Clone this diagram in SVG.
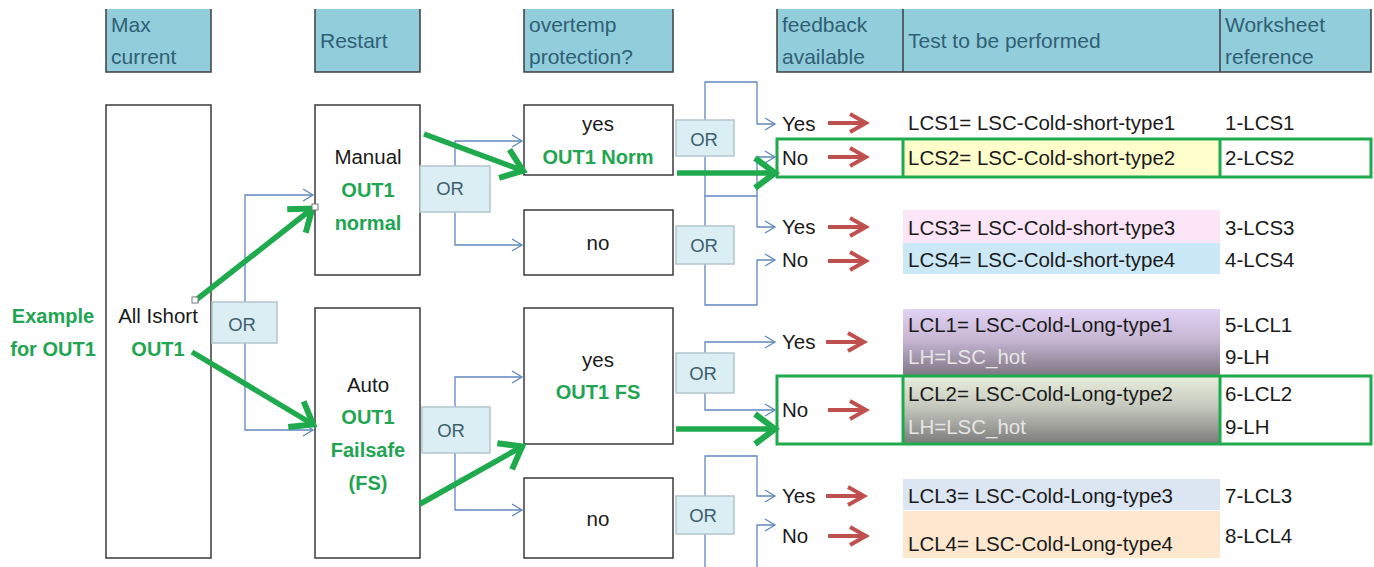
<svg xmlns="http://www.w3.org/2000/svg" width="1374" height="567" viewBox="0 0 1374 567">
<style>
text{font-family:"Liberation Sans",Arial,sans-serif;}
.hdr{fill:#92CDDC;}
.hdrline{fill:none;stroke:#3F3F3F;stroke-width:1.5;}
.htxt{font-size:21px;fill:#2F6073;}
.box{fill:#fff;stroke:#3A3A3A;stroke-width:1.5;}
.t{font-size:20.5px;fill:#1A1A1A;}
.c{text-anchor:middle;}
.g{font-weight:bold;fill:#22A552;font-size:20px;}
.or rect{fill:#DBEEF4;stroke:#B3C6CE;stroke-width:1.5;}
.or text{font-size:18.5px;fill:#3D5F6D;text-anchor:middle;}
.blue{fill:none;stroke:#5F86C0;stroke-width:1.3;}
.red{fill:none;stroke:#C0504D;stroke-width:4;}
.green{fill:none;stroke:#1FAA4D;stroke-width:5.5;}
.hl{fill:none;stroke:#1FAA4D;stroke-width:3;}
.lh{font-size:20.5px;fill:#E6E6E6;}
.handle{fill:#fff;stroke:#777;stroke-width:1;}
</style>
<defs>
<linearGradient id="gLCL1" x1="0" y1="0" x2="0" y2="1">
<stop offset="0" stop-color="#E2D2F3"/>
<stop offset="0.45" stop-color="#C7B7D4"/>
<stop offset="1" stop-color="#7E7582"/>
</linearGradient>
<linearGradient id="gLCL2" x1="0" y1="0" x2="0" y2="1">
<stop offset="0" stop-color="#E8EDDC"/>
<stop offset="0.45" stop-color="#C4C7BC"/>
<stop offset="1" stop-color="#7B7B7B"/>
</linearGradient>
<marker id="ab" markerUnits="userSpaceOnUse" markerWidth="14" markerHeight="16" viewBox="0 0 14 16" refX="12" refY="8" orient="auto">
<path d="M2,2 L12,8 L2,14" fill="none" stroke="#5F86C0" stroke-width="1.3"/>
</marker>
<marker id="ag" markerUnits="userSpaceOnUse" markerWidth="34" markerHeight="38" viewBox="0 0 34 38" refX="30" refY="19" orient="auto">
<path d="M9,4 L29,19 L9,34" fill="none" stroke="#1FAA4D" stroke-width="6" stroke-linejoin="miter"/>
</marker>
<marker id="ar" markerUnits="userSpaceOnUse" markerWidth="24" markerHeight="24" viewBox="0 0 24 24" refX="20" refY="12" orient="auto">
<path d="M4,3 L20,12 L4,21" fill="none" stroke="#C0504D" stroke-width="4"/>
</marker>
</defs>
<rect width="1374" height="567" fill="#fff"/>

<g id="headers">
<g id="h-max"><rect class="hdr" x="106" y="9" width="105" height="63"/><path class="hdrline" d="M106,9 V72 H211 V9"/><text class="htxt" x="111" y="32">Max</text><text class="htxt" x="111" y="64">current</text></g>
<g id="h-restart"><rect class="hdr" x="315" y="9" width="105" height="63"/><path class="hdrline" d="M315,9 V72 H420 V9"/><text class="htxt" x="320" y="48">Restart</text></g>
<g id="h-overtemp"><rect class="hdr" x="524" y="9" width="149" height="63"/><path class="hdrline" d="M524,9 V72 H673 V9"/><text class="htxt" x="529" y="32">overtemp</text><text class="htxt" x="529" y="64">protection?</text></g>
<g id="h-feedback"><rect class="hdr" x="777" y="9" width="594" height="63"/><path class="hdrline" d="M777,9 V72 H1371 V9 M903,9 V72 M1220,9 V72"/><text class="htxt" x="782" y="32">feedback</text><text class="htxt" x="782" y="64">available</text><text class="htxt" x="908" y="48">Test to be performed</text><text class="htxt" x="1225" y="32">Worksheet</text><text class="htxt" x="1225" y="64">reference</text></g>
</g>

<g id="connectors">
<path class="blue" d="M245,302 V195 H313" marker-end="url(#ab)"/>
<path class="blue" d="M245,343 V430 H313" marker-end="url(#ab)"/>
<path class="blue" d="M455,166 V141 H522" marker-end="url(#ab)"/>
<path class="blue" d="M455,212 V245 H522" marker-end="url(#ab)"/>
<path class="blue" d="M455,407 V377 H522" marker-end="url(#ab)"/>
<path class="blue" d="M455,453 V510 H522" marker-end="url(#ab)"/>
<path class="blue" d="M705,120 V82 H757 V124 H775" marker-end="url(#ab)"/>
<path class="blue" d="M705,156 V196 H757 V157 H775" marker-end="url(#ab)"/>
<path class="blue" d="M705,226 V196 M757,196 V227 H775" marker-end="url(#ab)"/>
<path class="blue" d="M705,264 V305 H757 V260 H775" marker-end="url(#ab)"/>
<path class="blue" d="M705,353 V342 H775" marker-end="url(#ab)"/>
<path class="blue" d="M705,393 V410 H775" marker-end="url(#ab)"/>
<path class="blue" d="M705,496 V456 H757 V496 H775" marker-end="url(#ab)"/>
<path class="blue" d="M705,534 V567 M757,567 V525 H775" marker-end="url(#ab)"/>
<path class="red" d="M828,123 H866" marker-end="url(#ar)"/>
<path class="red" d="M828,157 H866" marker-end="url(#ar)"/>
<path class="red" d="M828,227 H866" marker-end="url(#ar)"/>
<path class="red" d="M828,261 H866" marker-end="url(#ar)"/>
<path class="red" d="M826,342 H864" marker-end="url(#ar)"/>
<path class="red" d="M828,410 H866" marker-end="url(#ar)"/>
<path class="red" d="M826,496 H864" marker-end="url(#ar)"/>
<path class="red" d="M828,536 H866" marker-end="url(#ar)"/>
</g>

<g id="n-maxcurrent"><rect class="box" x="106" y="105" width="105" height="453"/><text class="t c" x="158" y="323">All Ishort</text><text class="g c" x="158" y="356">OUT1</text></g>
<g id="n-example"><text class="g c" x="53" y="323">Example</text><text class="g c" x="53" y="356">for OUT1</text></g>
<g id="n-manual"><rect class="box" x="315" y="105" width="105" height="170"/><text class="t c" x="368" y="164">Manual</text><text class="g c" x="368" y="197">OUT1</text><text class="g c" x="368" y="230">normal</text></g>
<g id="n-auto"><rect class="box" x="315" y="308" width="105" height="250"/><text class="t c" x="368" y="392">Auto</text><text class="g c" x="368" y="424">OUT1</text><text class="g c" x="368" y="457">Failsafe</text><text class="g c" x="368" y="490">(FS)</text></g>
<g id="n-yes1"><rect class="box" x="524" y="105" width="149" height="70"/><text class="t c" x="598" y="131">yes</text><text class="g c" x="598" y="164">OUT1 Norm</text></g>
<g id="n-no1"><rect class="box" x="524" y="210" width="149" height="65"/><text class="t c" x="598" y="250">no</text></g>
<g id="n-yes2"><rect class="box" x="524" y="308" width="149" height="136"/><text class="t c" x="598" y="367">yes</text><text class="g c" x="598" y="399">OUT1 FS</text></g>
<g id="n-no2"><rect class="box" x="524" y="478" width="149" height="80"/><text class="t c" x="598" y="526">no</text></g>

<g id="or1" class="or"><rect x="212" y="302" width="65" height="41"/><text x="242" y="331">OR</text></g>
<g id="or2" class="or"><rect x="420" y="166" width="70" height="46"/><text x="450" y="195">OR</text></g>
<g id="or3" class="or"><rect x="422" y="407" width="68" height="46"/><text x="451" y="437">OR</text></g>
<g id="or4" class="or"><rect x="676" y="120" width="58" height="36"/><text x="704" y="146">OR</text></g>
<g id="or5" class="or"><rect x="676" y="226" width="58" height="38"/><text x="704" y="252">OR</text></g>
<g id="or6" class="or"><rect x="676" y="353" width="58" height="40"/><text x="703" y="380">OR</text></g>
<g id="or7" class="or"><rect x="676" y="496" width="58" height="38"/><text x="703" y="522">OR</text></g>

<g id="n-feedback">
<text class="t" x="782" y="131">Yes</text>
<text class="t" x="782" y="165">No</text>
<text class="t" x="782" y="234">Yes</text>
<text class="t" x="782" y="267">No</text>
<text class="t" x="782" y="349">Yes</text>
<text class="t" x="782" y="417">No</text>
<text class="t" x="782" y="503">Yes</text>
<text class="t" x="782" y="543">No</text>
</g>

<g id="n-tests">
<rect x="903" y="139" width="317" height="38" fill="#FFFFCC"/>
<rect x="903" y="210" width="317" height="33" fill="#FCE5F6"/>
<rect x="903" y="243" width="317" height="31" fill="#CBE8F7"/>
<rect x="903" y="309" width="317" height="67" fill="url(#gLCL1)"/>
<rect x="903" y="377" width="317" height="67" fill="url(#gLCL2)"/>
<rect x="903" y="479" width="317" height="31" fill="#DCE6F3"/>
<rect x="903" y="511" width="317" height="47" fill="#FDE8CF"/>
<text class="t" x="908" y="130">LCS1= LSC-Cold-short-type1</text>
<text class="t" x="908" y="165">LCS2= LSC-Cold-short-type2</text>
<text class="t" x="908" y="235">LCS3= LSC-Cold-short-type3</text>
<text class="t" x="908" y="267">LCS4= LSC-Cold-short-type4</text>
<text class="t" x="908" y="332">LCL1= LSC-Cold-Long-type1</text>
<text class="lh" x="908" y="364">LH=LSC_hot</text>
<text class="t" x="908" y="401">LCL2= LSC-Cold-Long-type2</text>
<text class="lh" x="908" y="434">LH=LSC_hot</text>
<text class="t" x="908" y="503">LCL3= LSC-Cold-Long-type3</text>
<text class="t" x="908" y="551">LCL4= LSC-Cold-Long-type4</text>
</g>

<g id="n-worksheet">
<text class="t" x="1225" y="130">1-LCS1</text>
<text class="t" x="1225" y="165">2-LCS2</text>
<text class="t" x="1225" y="235">3-LCS3</text>
<text class="t" x="1225" y="267">4-LCS4</text>
<text class="t" x="1225" y="332">5-LCL1</text>
<text class="t" x="1225" y="364">9-LH</text>
<text class="t" x="1225" y="401">6-LCL2</text>
<text class="t" x="1225" y="434">9-LH</text>
<text class="t" x="1225" y="503">7-LCL3</text>
<text class="t" x="1225" y="543">8-LCL4</text>
</g>

<g id="highlights">
<path class="hl" d="M777,139 H1371 V177 H777 Z M903,139 V177 M1220,139 V177"/>
<path class="hl" d="M777,376 H1371 V444 H777 Z M903,376 V444 M1220,376 V444"/>
</g>

<g id="green-arrows">
<path class="green" d="M196,300 L313,208" marker-end="url(#ag)"/>
<path class="green" d="M192,352 L314,425" marker-end="url(#ag)"/>
<path class="green" d="M424,134 L524,171" marker-end="url(#ag)"/>
<path class="green" d="M420,504 L523,446" marker-end="url(#ag)"/>
<path class="green" d="M677,173 L776,173" marker-end="url(#ag)"/>
<path class="green" d="M676,429 L776,429" marker-end="url(#ag)"/>
<rect class="handle" x="192" y="297" width="6" height="6"/>
<rect class="handle" x="312" y="204" width="6" height="6"/>
</g>
</svg>
